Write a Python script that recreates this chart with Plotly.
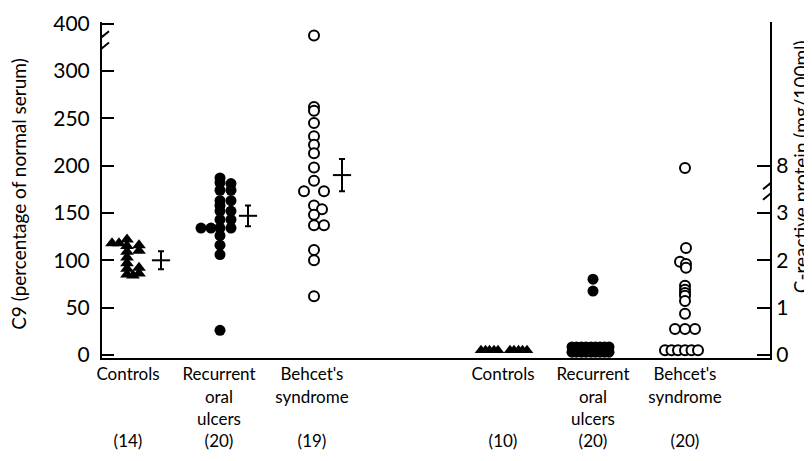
import plotly.graph_objects as go

# ---------------- data ----------------
# C9 (percentage of normal serum)
c9_controls = [118, 118, 122, 115, 109, 103, 97, 91, 85, 116, 110, 92, 86, 84]
c9_rou = [187, 182, 174, 163, 158, 152, 143, 134, 126, 116, 106,
          181, 174, 163, 152, 143, 134, 134, 134, 26]
c9_behcet = [375, 262, 258, 245, 231, 222, 213, 198, 184, 173, 173,
             158, 154, 148, 137, 137, 111, 100, 62]
c9_mean = [100, 147, 190]
c9_se = [9.5, 11, 17]

# C-reactive protein (mg/100ml)
crp_controls = [0.1] * 10
crp_rou = [0.17] * 9 + [0.06] * 9 + [1.6, 1.35]
crp_behcet = [7.75, 2.26, 1.97, 1.92, 1.84, 1.46, 1.38, 1.31, 1.25, 1.14,
              0.87, 0.55, 0.55, 0.55, 0.1, 0.1, 0.1, 0.1, 0.1, 0.1]

categories = ["Controls<br> <br> ", "Recurrent<br>oral<br>ulcers", "Behcet's<br>syndrome<br> "]
counts_c9 = ["(14)", "(20)", "(19)"]
counts_crp = ["(10)", "(20)", "(20)"]

left_tick_vals = [0, 50, 100, 150, 200, 250, 300, 400]
right_tick_vals = [0, 1, 2, 3, 8]

# ---------------- layout helpers (positions / offsets) ----------------
# x axis measured in arbitrary units, left axis at 0, right axis at 66.8
group_x_c9 = [2.5, 11.8, 21.2]
mean_x = [5.9, 14.6, 24.0]
group_x_crp = [40.2, 48.9, 58.3]
label_x = [2.6, 11.7, 21.0, 40.1, 49.1, 58.3]

off_c9_controls = [-1.5, -0.8, 0, 0, 0, 0, 0, 0, 0, 1.2, 1.2, 1.2, 1.2, 0.6]
off_c9_rou = [0] * 11 + [1.1] * 6 + [-1.9, -0.9, 0]
off_c9_behcet = [0] * 9 + [-1.0, 1.0, 0, 0.8, 0, 0, 1.0, 0, 0, 0]
off_crp_controls = [-2.3, -1.85, -1.45, -1.0, -0.6, 0.6, 1.0, 1.45, 1.85, 2.3]
off_crp_rou = [-1.9, -1.45, -0.95, -0.5, 0, 0.45, 0.9, 1.35, 1.8,
               -1.9, -1.45, -0.95, -0.5, 0, 0.45, 0.9, 1.35, 1.8, 0.2, 0.2]
off_crp_behcet = [0, 0.1, -0.5, 0.1, 0.1, 0, 0, 0, 0, 0,
                  0, -1.0, 0, 1.0, -2.0, -1.35, -0.7, 0, 0.65, 1.3]


def c9_disp(v):
    # broken axis: 300-400 compressed into one 50-unit step
    return v if v <= 300 else 300 + (v - 300) * 0.5


def crp_disp(v):
    # 0-3 on 50 units per mg, break between 3 and 8
    return v * 50 if v <= 3 else 150 + (v - 3) * 10


fig = go.Figure()

BLACK = "black"


def add_pts(center, offs, vals, fn, symbol, size, yaxis, open_=False):
    fig.add_trace(go.Scatter(
        x=[center + o for o in offs],
        y=[fn(v) for v in vals],
        mode="markers",
        yaxis=yaxis,
        marker=dict(symbol=symbol, size=size, color=BLACK if not open_ else "white",
                    line=dict(color=BLACK, width=2 if open_ else 0)),
        showlegend=False, hoverinfo="skip"))


add_pts(group_x_c9[0], off_c9_controls, c9_controls, c9_disp, "triangle-up", 12, "y")
add_pts(group_x_c9[1], off_c9_rou, c9_rou, c9_disp, "circle", 11, "y")
add_pts(group_x_c9[2], off_c9_behcet, c9_behcet, c9_disp, "circle", 10, "y", open_=True)

add_pts(group_x_crp[0], off_crp_controls, crp_controls, crp_disp, "triangle-up", 11, "y2")
add_pts(group_x_crp[1], off_crp_rou, crp_rou, crp_disp, "circle", 11, "y2")
add_pts(group_x_crp[2], off_crp_behcet, crp_behcet, crp_disp, "circle", 10, "y2", open_=True)

# mean +/- SE
fig.add_trace(go.Scatter(
    x=mean_x, y=c9_mean, mode="markers",
    marker=dict(symbol="line-ew-open", size=13, color=BLACK, line=dict(color=BLACK, width=2)),
    error_y=dict(type="data", array=c9_se, color=BLACK, thickness=2, width=3),
    showlegend=False, hoverinfo="skip"))

YR = [-3.2, 351.7]

# axis breaks (slashes)
shapes = []
for yc in [336, 324]:
    shapes.append(dict(type="line", xref="x", yref="y", x0=-0.7, x1=0.7,
                       y0=yc - 6, y1=yc + 6, line=dict(color=BLACK, width=2)))
shapes.append(dict(type="line", xref="x", yref="y", x0=0, x1=0, y0=327, y1=333,
                   line=dict(color="white", width=4)))
for yc in [181, 170]:
    shapes.append(dict(type="line", xref="x", yref="y", x0=66.1, x1=67.5,
                       y0=yc - 6, y1=yc + 6, line=dict(color=BLACK, width=2)))
shapes.append(dict(type="line", xref="x", yref="y", x0=66.8, x1=66.8, y0=173, y1=178,
                   line=dict(color="white", width=4)))

FONT = "Lato"

fig.update_layout(
    width=812, height=461,
    margin=dict(l=94, r=50, t=14, b=111, autoexpand=False),
    paper_bgcolor="white", plot_bgcolor="white",
    font=dict(family=FONT, color=BLACK, size=16),
    xaxis=dict(range=[0, 66.8], showgrid=False, zeroline=False, automargin=False,
               showline=True, linecolor=BLACK, linewidth=2, mirror=False,
               tickvals=label_x,
               ticktext=[c + "<br>" + n for c, n in zip(categories, counts_c9)] +
                        [c + "<br>" + n for c, n in zip(categories, counts_crp)],
               ticks="", tickfont=dict(size=17, family=FONT), ticklabelstandoff=0),
    yaxis=dict(range=YR, showgrid=False, zeroline=False, automargin=False,
               showline=True, linecolor=BLACK, linewidth=2,
               tickvals=[c9_disp(v) for v in left_tick_vals],
               ticktext=[str(v) for v in left_tick_vals],
               ticks="inside", ticklen=12, tickwidth=2, tickcolor=BLACK,
               tickfont=dict(size=21, family=FONT), ticklabelstandoff=6),
    yaxis2=dict(range=YR, overlaying="y", side="right", showgrid=False, zeroline=False,
                automargin=False,
                showline=True, linecolor=BLACK, linewidth=2,
                tickvals=[crp_disp(v) for v in right_tick_vals],
                ticktext=[str(v) for v in right_tick_vals],
                ticks="inside", ticklen=13, tickwidth=2, tickcolor=BLACK,
                tickfont=dict(size=21, family=FONT), ticklabelstandoff=0),
    shapes=shapes,
    annotations=[
        dict(text="C9 (percentage of normal serum)", xref="paper", yref="paper",
             x=-0.125, y=0.487, textangle=-90, showarrow=False,
             font=dict(size=19, family=FONT), xanchor="center", yanchor="middle"),
        dict(text="C-reactive protein (mg/100ml)", xref="paper", yref="paper",
             x=1.046, y=0.57, textangle=-90, showarrow=False,
             font=dict(size=19, family=FONT), xanchor="center", yanchor="middle"),
    ],
)

fig.write_html("out.html")
